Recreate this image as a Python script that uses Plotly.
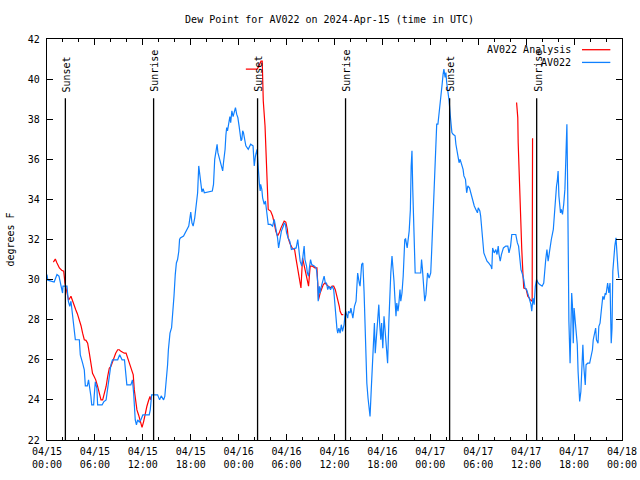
import plotly.graph_objects as go
from datetime import datetime, timedelta

START = datetime(2024, 4, 15)

TITLE = "Dew Point for AV022 on 2024-Apr-15 (time in UTC)"
Y_LABEL = "degrees F"
OBS_NAME = "AV022"
ANA_NAME = "AV022 Analysis"

# AV022 observations: hours after 2024-04-15 00:00 UTC, dew point (F)
obs_hours = [0.0, 0.1, 0.9, 1.25, 1.5, 1.75, 1.95, 2.0, 2.5, 2.67, 2.85, 3.0, 3.2, 3.4, 3.55, 4.05, 4.17, 4.46, 4.67, 4.8,
             5.05, 5.2, 5.35, 5.5, 5.6, 5.84, 5.92, 6.05, 6.25, 6.34, 6.9, 7.1, 7.4, 7.6, 7.8, 8.0, 8.2, 8.85, 9.1, 9.4,
             9.7, 9.9, 10.0, 10.5, 10.7, 10.85, 11.05, 11.2, 11.35, 11.55, 11.75, 12.0, 12.8, 12.93, 13.1, 13.85, 14.1,
             14.3, 14.6, 14.75, 14.9, 15.1, 15.2, 15.4, 15.6, 15.8, 15.9, 16.06, 16.2, 16.35, 16.5, 16.6, 16.7, 17.1,
             17.3, 17.6, 17.75, 17.9, 18.0, 18.15, 18.3, 18.5, 18.7, 18.86, 19.0, 19.15, 19.27, 19.4, 19.55, 19.7, 20.7,
             20.85, 21.0, 21.15, 21.3, 21.4, 21.55, 21.8, 22.0, 22.1, 22.3, 22.4, 22.5, 22.6, 22.7, 22.9, 23.0, 23.15,
             23.3, 23.45, 23.6, 23.75, 23.9, 24.05, 24.2, 24.3, 24.4, 24.5, 24.6, 24.9, 25.2, 25.5, 25.8, 25.95, 26.1,
             26.3, 26.38, 26.45, 26.6, 26.7, 26.75, 26.9, 27.0, 27.2, 27.35, 27.5, 27.7, 28.0, 28.25, 28.45, 28.6, 28.75,
             28.87, 29.0, 29.2, 29.35, 29.6, 29.7, 29.85, 30.0, 30.2, 30.4, 30.6, 31.2, 31.4, 31.5, 31.7, 31.9, 32.05,
             32.2, 32.3, 32.5, 32.6, 32.75, 32.85, 33.0, 33.15, 33.5, 33.7, 33.8, 33.9, 33.96, 34.1, 34.2, 34.3, 34.5,
             34.7, 34.85, 35.0, 35.15, 35.3, 35.5, 35.7, 35.9, 36.0, 36.2, 36.3, 36.4, 36.55, 36.7, 36.85, 37.0, 37.2,
             37.3, 37.4, 37.65, 37.75, 37.95, 38.05, 38.3, 38.5, 38.7, 38.8, 38.9, 39.1, 39.2, 39.4, 39.55, 39.7, 39.9,
             40.05, 40.2, 40.35, 40.45, 40.6, 40.75, 40.9, 41.0, 41.1, 41.25, 41.4, 41.55, 41.65, 41.8, 41.9, 42.05,
             42.2, 42.35, 42.5, 42.65, 42.8, 42.9, 43.05, 43.2, 43.3, 43.45, 43.55, 43.7, 43.8, 43.95, 44.05, 44.2,
             44.3, 44.45, 44.6, 44.7, 44.8, 44.9, 45.0, 45.1, 45.35, 45.5, 45.6, 45.7, 45.8, 45.9, 46.0, 46.05, 46.1,
             46.8, 46.9, 47.0, 47.15, 47.3, 47.45, 47.65, 47.85, 48.05, 48.15, 48.28, 48.4, 48.55, 48.7, 48.8, 48.95,
             49.1, 49.2, 49.4, 49.5, 49.6, 49.7, 49.85, 49.95, 50.05, 50.2, 50.35, 50.5, 50.6, 50.7, 50.85, 51.1, 51.2,
             51.4, 51.6, 51.73, 51.9, 52.1, 52.2, 52.4, 52.55, 52.7, 52.9, 53.05, 53.3, 53.5, 53.7, 53.9, 54.0, 54.2,
             54.3, 54.5, 54.7, 54.85, 55.1, 55.3, 55.6, 55.7, 55.8, 56.0, 56.2, 56.35, 56.5, 56.6, 56.75, 56.9, 57.15,
             57.45, 57.7, 57.85, 58.05, 58.2, 58.7, 58.9, 59.05, 59.2, 59.35, 59.55, 59.7, 59.85, 60.05, 60.25, 60.4,
             60.6, 60.7, 60.85, 61.0, 61.15, 61.3, 61.5, 61.7, 62.0, 62.2, 62.3, 62.45, 62.6, 62.75, 62.9, 63.0, 63.15,
             63.4, 63.55, 63.7, 63.8, 63.9, 64.0, 64.1, 64.2, 64.3, 64.4, 64.55, 64.7, 64.85, 64.99, 65.1, 65.2, 65.25,
             65.35, 65.5, 65.6, 65.7, 65.8, 65.9, 66.0, 66.1, 66.25, 66.4, 66.5, 66.6, 66.7, 66.85, 66.95, 67.1, 67.2,
             67.3, 67.4, 67.5, 67.7, 67.95, 68.1, 68.3, 68.4, 68.6, 68.7, 68.8, 69.0, 69.1, 69.25, 69.4, 69.5, 69.6,
             69.75, 69.9, 70.0, 70.2, 70.35, 70.5, 70.65, 70.75, 70.85, 71.0, 71.1, 71.25, 71.35, 71.5, 71.6]
obs_vals = [30.25, 29.97, 29.88, 30.25, 30.17, 29.58, 29.33, 29.67, 29.67, 28.92, 28.67, 28.92, 28.25, 27.67, 27.0, 27.0,
            26.25, 25.83, 25.5, 24.7, 24.7, 25.0, 24.67, 24.17, 23.75, 23.75, 24.25, 24.9, 24.58, 23.75, 23.75, 23.9,
            24.0, 24.67, 25.33, 25.75, 26.0, 26.0, 26.25, 26.0, 26.0, 25.33, 24.75, 24.75, 25.0, 24.33, 23.0, 22.75,
            23.0, 22.9, 23.0, 23.25, 23.25, 23.5, 24.25, 24.25, 24.0, 24.2, 24.0, 24.17, 24.75, 25.75, 26.5, 27.33,
            27.6, 28.4, 29.17, 30.25, 30.83, 31.0, 31.4, 32.0, 32.08, 32.17, 32.33, 32.58, 32.67, 33.08, 33.37, 32.83,
            32.67, 33.08, 33.83, 34.33, 35.67, 35.25, 34.67, 34.37, 34.53, 34.33, 34.42, 34.75, 36.0, 36.5, 36.75,
            36.33, 36.08, 35.67, 35.42, 35.83, 36.5, 37.2, 37.58, 37.42, 37.67, 38.13, 37.83, 38.42, 38.13, 38.33,
            38.58, 38.25, 38.08, 37.67, 37.33, 36.92, 37.0, 37.42, 37.33, 36.67, 36.5, 36.75, 36.67, 35.67, 36.17,
            36.5, 36.0, 35.33, 34.75, 34.42, 34.75, 34.5, 34.08, 33.75, 33.92, 33.42, 32.75, 32.75, 32.67, 33.0, 32.67,
            32.5, 32.08, 31.58, 32.08, 32.42, 32.67, 32.83, 32.75, 32.33, 32.08, 31.92, 31.5, 31.58, 32.0, 31.67, 30.92,
            30.67, 31.33, 31.67, 31.0, 30.67, 30.33, 30.17, 30.58, 31.0, 30.75, 30.67, 30.58, 30.33, 29.83, 28.92,
            29.67, 29.33, 29.58, 29.83, 30.17, 29.83, 29.83, 29.5, 29.67, 29.5, 29.67, 29.5, 28.92, 28.0, 27.58, 27.33,
            27.58, 27.33, 27.75, 27.42, 27.75, 28.17, 28.42, 28.08, 28.42, 28.33, 28.58, 28.08, 28.67, 28.92, 29.83,
            30.33, 29.83, 29.67, 30.75, 30.83, 29.42, 26.58, 24.83, 24.08, 23.5, 23.17, 24.5, 25.67, 27.17, 27.83,
            26.33, 27.33, 28.25, 28.75, 27.83, 27.0, 27.83, 26.58, 28.17, 27.33, 26.5, 25.83, 27.83, 29.0, 30.33,
            31.17, 30.75, 29.92, 29.17, 28.17, 28.83, 28.42, 28.75, 29.5, 28.92, 29.33, 30.17, 31.33, 32.0, 32.03,
            31.83, 31.58, 32.42, 33.5, 35.67, 36.42, 34.5, 32.83, 31.5, 31.33, 30.33, 30.33, 31.0, 30.58, 29.83,
            28.92, 29.25, 30.33, 30.08, 30.33, 31.25, 32.58, 34.42, 35.92, 37.17, 37.75, 37.75, 38.25, 38.67, 39.33,
            39.83, 40.25, 40.5, 40.08, 40.33, 39.83, 39.42, 38.92, 38.17, 37.58, 37.33, 37.25, 37.17, 36.75, 36.33,
            35.83, 36.0, 35.75, 35.5, 35.17, 35.0, 34.33, 34.67, 34.58, 34.33, 33.92, 33.67, 33.5, 33.33, 33.58, 33.42,
            33.17, 32.42, 31.33, 31.17, 30.92, 30.83, 30.67, 30.53, 31.58, 31.33, 31.5, 31.25, 31.67, 31.25, 30.92,
            31.25, 31.58, 31.67, 31.67, 31.33, 31.67, 32.25, 32.25, 31.83, 31.67, 31.08, 30.5, 30.25, 30.0, 29.58,
            29.5, 29.25, 29.08, 28.75, 28.42, 29.08, 28.75, 29.67, 30.0, 29.83, 29.75, 29.67, 29.83, 30.42, 31.0, 31.5,
            30.92, 31.33, 31.75, 32.0, 32.5, 33.42, 34.0, 34.67, 34.92, 35.42, 34.17, 33.5, 33.33, 33.5, 33.25, 33.75,
            34.5, 36.33, 37.75, 34.5, 31.5, 27.92, 25.83, 28.67, 29.33, 28.67, 26.83, 28.58, 28.0, 27.17, 26.75, 25.42,
            24.67, 23.92, 24.42, 25.83, 26.75, 25.75, 25.17, 24.75, 25.75, 25.83, 25.83, 26.08, 26.5, 27.0, 27.33,
            27.58, 27.0, 26.83, 27.67, 27.83, 28.42, 28.92, 29.17, 29.0, 29.33, 29.25, 29.83, 29.33, 29.83, 26.83,
            27.58, 30.42, 31.33, 31.67, 32.08, 31.17, 30.5, 30.08]

# AV022 Analysis: hours after start, dew point (F); None marks a gap
ana_hours = [0.8, 1.04, 1.25, 1.55, 1.84, 2.09, 2.25, 2.5, 2.7, 3.0, 3.2, 3.4, 3.6, 3.8, 4.05, 4.26, 4.46, 4.67, 4.88,
             5.09, 5.3, 5.5, 5.7, 5.9, 6.1, 6.34, 6.55, 6.76, 6.97, 7.18, 7.4, 7.6, 7.8, 8.0, 8.2, 8.4, 8.6, 8.85, 9.05,
             9.26, 9.47, 9.68, 9.9, 10.0, 10.2, 10.4, 10.6, 10.8, 10.93, 11.1, 11.26, 11.47, 11.68, 11.9, 12.1, 12.3,
             12.5, 12.72, 12.9, 13.0, 19.0,
             24.9, 26.3, 26.45, 26.66, 26.8, 26.95, 27.08, 27.3, 27.4, 27.5, 27.6, 27.7, 28.0, 28.25, 28.45, 28.65,
             28.87, 29.08, 29.3, 29.5, 29.7, 29.9, 30.1, 30.2, 30.4, 30.7, 31.0, 31.2, 31.4, 31.6, 31.7, 31.8, 32.0,
             32.15, 32.3, 32.45, 32.6, 32.75, 32.85, 32.96, 33.25, 33.55, 33.8, 33.9, 34.0, 34.2, 34.4, 34.6, 34.8,
             35.0, 35.2, 35.45, 35.7, 35.9, 36.1, 36.3, 36.5, 36.6, 36.7, 36.9, 37.1, 48.0,
             58.8, 58.95, 59.0, 59.1, 59.2, 59.3, 59.45, 59.6, 59.7, 60.0, 60.2, 60.4, 60.5, 60.75, 60.8]
ana_vals = [30.87, 31.03, 30.83, 30.58, 30.47, 30.42, 29.83, 29.3, 28.97, 29.17, 28.92, 28.75, 28.5, 28.3, 28.03, 27.7,
            27.33, 27.0, 26.97, 26.83, 26.33, 25.75, 25.33, 25.17, 25.0, 24.67, 24.3, 24.0, 24.0, 24.33, 24.67, 25.17,
            25.58, 25.67, 25.92, 26.13, 26.33, 26.5, 26.5, 26.42, 26.37, 26.33, 26.33, 26.2, 25.92, 25.67, 25.42,
            25.25, 24.5, 24.0, 23.5, 23.25, 22.87, 22.63, 22.92, 23.33, 23.67, 23.97, 24.17, 24.0, None,
            40.5, 40.5, 40.58, 40.75, 40.9, 40.9, 38.92, 37.67, 36.5, 35.17, 34.17, 33.5, 33.42, 33.17, 32.83, 32.42,
            32.17, 32.33, 32.58, 32.75, 32.92, 32.87, 32.5, 32.08, 31.83, 31.58, 31.5, 31.0, 30.5, 30.17, 29.83, 29.58,
            31.08, 30.83, 30.5, 30.17, 29.92, 29.67, 30.17, 30.67, 30.67, 30.58, 30.58, 29.83, 29.0, 29.33, 29.58,
            29.75, 29.83, 29.75, 29.67, 29.58, 29.67, 29.67, 29.5, 29.17, 28.92, 28.67, 28.42, 28.25, 28.25, None,
            38.83, 38.08, 36.83, 35.5, 34.25, 32.83, 31.5, 30.25, 29.58, 29.53, 29.17, 29.08, 29.0, 28.92, 37.05]

# Sunrise / sunset markers
sun_times = ["2024-04-15 02:18", "2024-04-15 13:21", "2024-04-16 02:22",
             "2024-04-16 13:23", "2024-04-17 02:25", "2024-04-17 13:19"]
sun_labels = ["Sunset", "Sunrise", "Sunset", "Sunrise", "Sunset", "Sunrise"]
SUN_LINE_TOP = 39.05

# Axis ticks
x_tick_hours = [0, 6, 12, 18, 24, 30, 36, 42, 48, 54, 60, 66, 72]
x_tick_labels = ["04/15<br>00:00", "04/15<br>06:00", "04/15<br>12:00", "04/15<br>18:00",
                 "04/16<br>00:00", "04/16<br>06:00", "04/16<br>12:00", "04/16<br>18:00",
                 "04/17<br>00:00", "04/17<br>06:00", "04/17<br>12:00", "04/17<br>18:00",
                 "04/18<br>00:00"]
y_ticks = [22, 24, 26, 28, 30, 32, 34, 36, 38, 40, 42]


def t(h):
    return START + timedelta(hours=h)


RED = "#ff0000"
BLUE = "#1080ff"
FONT = "DejaVu Sans Mono"
W, H = 640, 480

fig = go.Figure()
fig.add_trace(go.Scatter(x=[t(h) for h in ana_hours], y=ana_vals, mode="lines",
                         line=dict(color=RED, width=1.2), name=ANA_NAME, connectgaps=False))
fig.add_trace(go.Scatter(x=[t(h) for h in obs_hours], y=obs_vals, mode="lines",
                         line=dict(color=BLUE, width=1.2), name=OBS_NAME))

for st, lab in zip(sun_times, sun_labels):
    fig.add_shape(type="line", xref="x", yref="y", x0=st, x1=st, y0=y_ticks[0], y1=SUN_LINE_TOP,
                  line=dict(color="black", width=1.3), layer="above")
    fig.add_annotation(x=st, y=SUN_LINE_TOP + 0.2, text=lab, textangle=-90, showarrow=False,
                       xanchor="center", yanchor="bottom", xshift=1,
                       font=dict(family=FONT, size=10, color="black"))

# Legend drawn gnuplot-style: text right-aligned, sample line to the right
for name, col, yp in [(ANA_NAME, RED, 0.9733), (OBS_NAME, BLUE, 0.9416)]:
    fig.add_annotation(xref="paper", yref="paper", x=0.9153, y=yp, text=name, showarrow=False,
                       xanchor="right", yanchor="middle", font=dict(family=FONT, size=10, color="black"))
    fig.add_shape(type="line", xref="paper", yref="paper", x0=0.9304, x1=0.9797, y0=yp, y1=yp,
                  line=dict(color=col, width=1.3))

fig.update_layout(
    width=W, height=H,
    margin=dict(l=47, r=18, t=39, b=40, autoexpand=False),
    paper_bgcolor="white", plot_bgcolor="white",
    showlegend=False,
    font=dict(family=FONT, size=10, color="black"),
    title=dict(text=TITLE, x=0.515, xanchor="center", yref="container", y=1 - 19 / H, yanchor="middle",
               font=dict(family=FONT, size=10, color="black"), automargin=False),
)
fig.update_xaxes(
    type="date", range=[t(x_tick_hours[0]), t(x_tick_hours[-1])],
    tickvals=[t(h) for h in x_tick_hours], ticktext=x_tick_labels,
    ticks="inside", ticklen=6, tickcolor="black", tickwidth=1,
    minor=dict(dtick=2 * 3600 * 1000, tick0=START, ticks="inside", ticklen=3, tickcolor="black"),
    showline=True, linecolor="black", linewidth=1.3, mirror="ticks",
    showgrid=False, zeroline=False, automargin=False, ticklabelstandoff=2,
)
fig.update_yaxes(
    range=[y_ticks[0], y_ticks[-1]], tickvals=y_ticks,
    ticks="inside", ticklen=6, tickcolor="black", tickwidth=1,
    showline=True, linecolor="black", linewidth=1.3, mirror="ticks",
    showgrid=False, zeroline=False, automargin=False, ticklabelstandoff=4,
    title=dict(text=Y_LABEL, standoff=11, font=dict(family=FONT, size=10, color="black")),
)

# Remove the page's default body margin so the 640x480 figure fills the window exactly
fig.write_html("out.html", config={"displayModeBar": False},
               post_script="document.body.style.margin='0px';document.body.style.overflow='hidden';")
